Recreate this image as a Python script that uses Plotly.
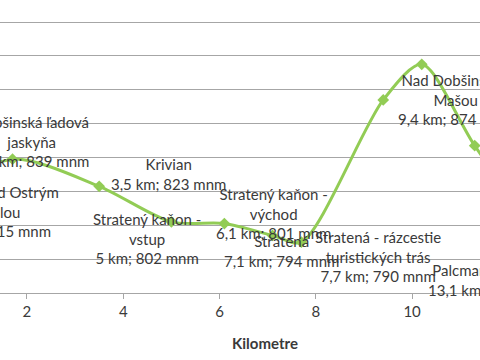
import plotly.graph_objects as go

# ---- data ----
km = [0.0, 1.7, 3.5, 5.0, 6.1, 7.1, 7.7, 9.4, 10.2, 11.3, 13.1]
elev = [815, 839, 823, 802, 801, 794, 790, 874, 895, 847, 775]
names = [
    "Sedlo pod Ostrým<br>skalou",
    "Dobšinská ľadová<br>jaskyňa",
    "Krivian",
    "Stratený kaňon -<br>vstup",
    "Stratený kaňon -<br>východ",
    "Stratená",
    "Stratená - rázcestie<br>turistických trás",
    "Nad Dobšinskou<br>Mašou",
    None,
    None,
    "Palcmanská Maša",
]
x_ticks = [2, 4, 6, 8, 10]

# ---- layout helpers (label offsets in px from the point, +dy = down) ----
label_offsets = [(69, 12), (19, -18), (69, -12), (-24, 17), (49, -10),
                 (9, 16), (77, 14), (72, 0), None, None, (-71, 12)]
X0, X1 = 1.44, 11.41
Y0, Y1 = 760, 933
PLOT_W, PLOT_H = 480, 293
GREEN = "#92CC55"
TXT = "#3A3A3A"
FONT = "Lato"
FS = 15

fig = go.Figure()
fig.add_trace(go.Scatter(
    x=km, y=elev, mode="lines+markers",
    line=dict(color=GREEN, width=3, shape="spline", smoothing=0.8),
    marker=dict(symbol="diamond", size=9, color=GREEN),
    cliponaxis=True, showlegend=False, hoverinfo="skip",
))

def fmt(v):
    return f"{v:g}".replace(".", ",")

for k, e, n, off in zip(km, elev, names, label_offsets):
    if n is None:
        continue
    dx, dy = off
    fx = (k - X0) / (X1 - X0) + dx / PLOT_W
    fy = (e - Y0) / (Y1 - Y0) - dy / PLOT_H
    fig.add_annotation(
        x=fx, y=fy, xref="x domain", yref="y domain",
        text=f"{n}<br>{fmt(k)} km; {e} mnm",
        showarrow=False, xanchor="center", yanchor="middle", align="center",
        font=dict(family=FONT, size=FS, color=TXT),
    )

fig.add_annotation(
    x=265 / PLOT_W, y=(PLOT_H - 343) / PLOT_H, xref="x domain", yref="y domain",
    text="<b>Kilometre</b>", showarrow=False, xanchor="center", yanchor="middle",
    font=dict(family=FONT, size=FS, color=TXT),
)

fig.update_layout(
    width=480, height=360,
    margin=dict(l=0, r=0, t=0, b=67, pad=0),
    paper_bgcolor="white", plot_bgcolor="white",
    font=dict(family=FONT, size=FS, color=TXT),
    xaxis=dict(range=[X0, X1], tickvals=x_ticks, ticktext=[str(t) for t in x_ticks],
               showgrid=False, zeroline=False, showline=True, linecolor="#A6A6A6",
               linewidth=1, ticks="outside", ticklen=5, tickcolor="#A6A6A6",
               tickfont=dict(family=FONT, size=FS, color=TXT)),
    yaxis=dict(range=[Y0, Y1], dtick=20, tick0=760, showgrid=True, gridcolor="#A6A6A6",
               gridwidth=1, zeroline=False, showline=False, showticklabels=False),
)

fig.write_html("out.html", config={"displayModeBar": False},
               post_script="document.body.style.margin='0';")
